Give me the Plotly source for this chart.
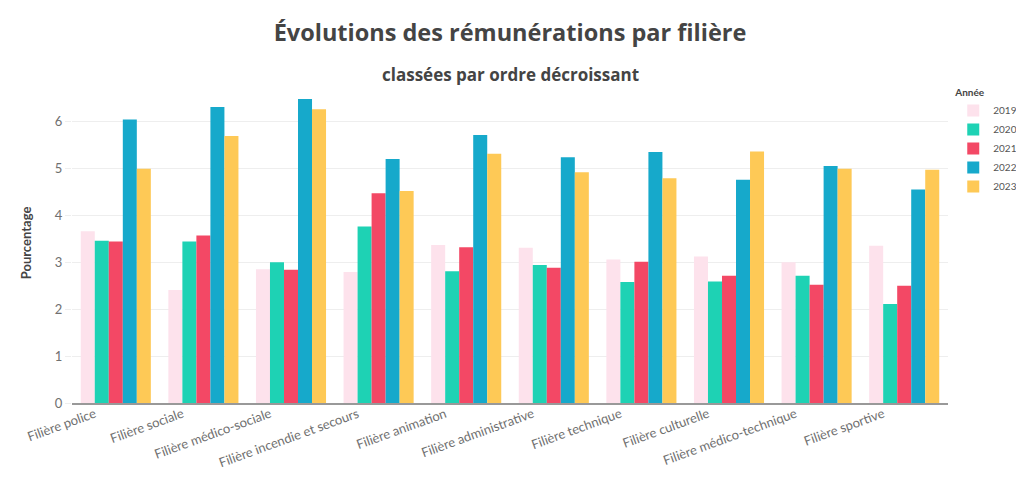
import plotly.graph_objects as go

categories = ["Filière police", "Filière sociale", "Filière médico-sociale",
              "Filière incendie et secours", "Filière animation", "Filière administrative",
              "Filière technique", "Filière culturelle", "Filière médico-technique",
              "Filière sportive"]
years = ["2019", "2020", "2021", "2022", "2023"]
v2019 = [3.66, 2.41, 2.85, 2.79, 3.37, 3.31, 3.06, 3.12, 3.00, 3.35]
v2020 = [3.46, 3.44, 3.00, 3.76, 2.81, 2.94, 2.58, 2.59, 2.71, 2.11]
v2021 = [3.44, 3.57, 2.84, 4.47, 3.32, 2.88, 3.01, 2.71, 2.52, 2.50]
v2022 = [6.04, 6.31, 6.48, 5.20, 5.71, 5.24, 5.35, 4.76, 5.05, 4.55]
v2023 = [4.99, 5.69, 6.26, 4.52, 5.31, 4.92, 4.79, 5.36, 4.99, 4.97]
series = [v2019, v2020, v2021, v2022, v2023]
colors = ["#FDE2EC", "#1ED2B4", "#F34865", "#16A9CB", "#FEC956"]

FONT = "Lato, 'Open Sans', sans-serif"
TFONT = "'Open Sans', Lato, sans-serif"

fig = go.Figure()
for y, vals, c in zip(years, series, colors):
    fig.add_trace(go.Bar(name=y, x=categories, y=vals, marker_color=c,
                         marker_line_width=0))

fig.update_layout(
    width=1024, height=500,
    barmode="group", bargap=0.2, bargroupgap=0,
    paper_bgcolor="white", plot_bgcolor="white",
    font=dict(family=FONT, color="#555"),
    margin=dict(l=64, r=84, t=75, b=105, autoexpand=False),
    title=dict(text="<b>Évolutions des rémunérations par filière</b>",
               x=0.5, xanchor="center", xref="paper", y=0.95, yref="container",
               yanchor="middle", automargin=False,
               font=dict(size=23.5, color="#444", family=TFONT)),
    legend=dict(title=dict(text="<b>Année</b>", font=dict(size=10, color="#444")),
                font=dict(size=10, color="#555"), x=1.006, xanchor="left",
                y=1.0, yanchor="top", tracegroupgap=0),
    xaxis=dict(tickangle=-20, tickfont=dict(size=13, color="#707070"), automargin=False,
               ticklabelshift=-21, ticklabelstandoff=-3,
               showline=True, linecolor="#999", linewidth=1.5, showgrid=False),
    yaxis=dict(range=[0, 6.82], dtick=1, gridcolor="#eeeeee", zeroline=False,
               automargin=False,
               ticks="outside", tickcolor="#eeeeee", ticklen=6,
               tickfont=dict(size=13, color="#707070"),
               title=dict(text="<b>Pourcentage</b>", font=dict(size=13, color="#444"),
                          standoff=20)),
    annotations=[dict(text="<b>classées par ordre décroissant</b>", x=0.5, xref="paper",
                      y=1.028, yref="paper", yanchor="middle", showarrow=False,
                      font=dict(size=17, color="#444", family=TFONT))],
)

fig.write_html("out.html")
